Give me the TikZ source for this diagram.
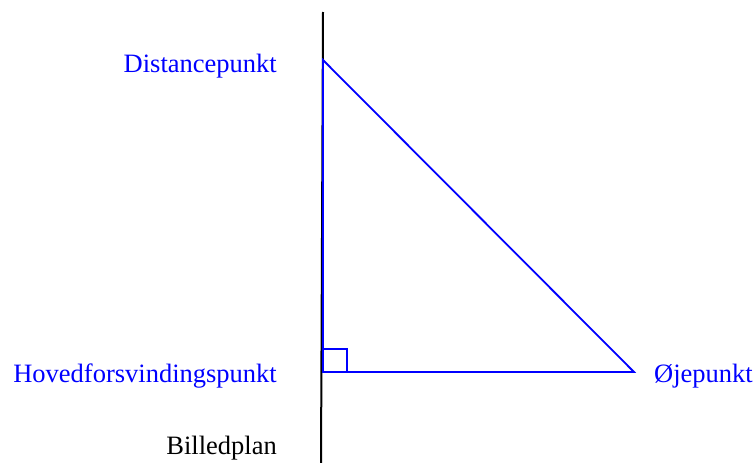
\documentclass[tikz,border=0pt]{standalone}
\usepackage{fontspec}
\setmainfont{Liberation Serif}
\begin{document}
\begin{tikzpicture}[x=1pt,y=-1pt,
  lbl/.style={inner sep=0pt,font=\fontsize{26.5}{30}\selectfont},
  bluelbl/.style={lbl,text=blue},
  plane/.style={black,line width=2pt},
  tri/.style={blue,line width=1.8pt}]
\useasboundingbox (0,0) rectangle (756,463);
\coordinate (ptop) at (323,12);
\coordinate (pbot) at (321,463);
\coordinate (D) at (323,60);
\coordinate (H) at (323,372);
\coordinate (O) at (634,372);
\coordinate (sq1) at (347,372);
\coordinate (sq2) at (347,349);
\coordinate (sq3) at (323,349);
\draw[plane] (ptop) -- (pbot);
\draw[tri,line join=miter] (D) -- (O) -- (H) -- cycle;
\draw[tri] (sq1) -- (sq2) -- (sq3);
\node[bluelbl,anchor=base east] (dlbl) at (277,72) {Distancepunkt};
\node[bluelbl,anchor=base east] (hlbl) at (277,382) {Hovedforsvindingspunkt};
\node[bluelbl,anchor=base west] (olbl) at (654,382) {Øjepunkt};
\node[lbl,anchor=base east] (blbl) at (277,454) {Billedplan};
\end{tikzpicture}
\end{document}
